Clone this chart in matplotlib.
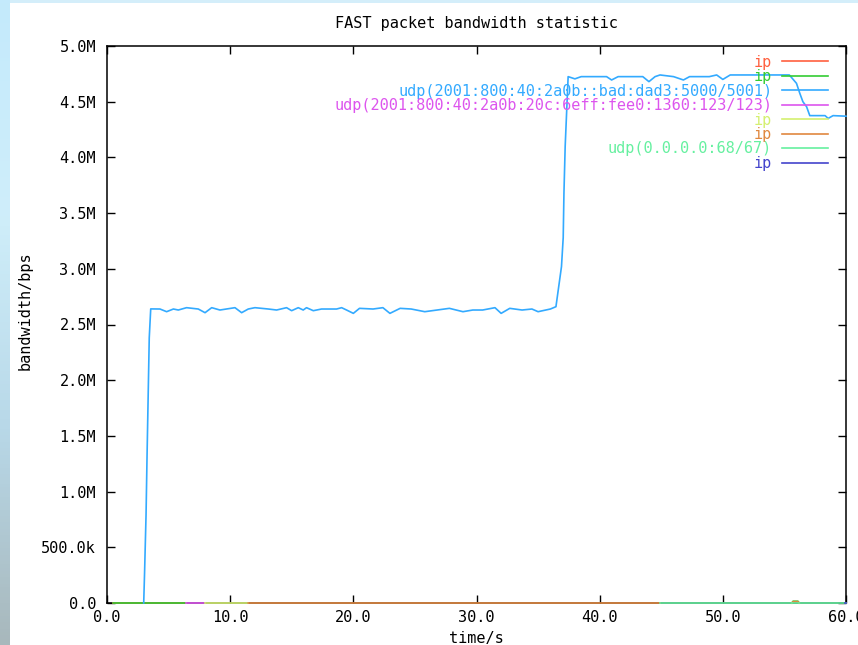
import numpy as np
import matplotlib
matplotlib.use("Agg")
import matplotlib.pyplot as plt
from matplotlib.patches import Rectangle
from matplotlib.colors import LinearSegmentedColormap
from matplotlib.ticker import FuncFormatter, MultipleLocator

# series labels / colours, in plotting order
labels = ["ip", "ip", "udp(2001:800:40:2a0b::bad:dad3:5000/5001)",
          "udp(2001:800:40:2a0b:20c:6eff:fee0:1360:123/123)", "ip", "ip",
          "udp(0.0.0.0:68/67)", "ip"]
colors = ["#ff6040", "#33cc33", "#33aaff", "#dd55ee", "#d4f070", "#e08840",
          "#66f0a0", "#4444cc"]

# time (s) / bandwidth (Mbps) for each series
ip1_t = [0.5, 6.4]
ip1_v = [0.0, 0.0]
ip2_t = [0.5, 6.4, np.nan, 55.6, 55.7, 56.1, 56.2]
ip2_v = [0.0, 0.0, np.nan, 0.0, 0.016, 0.016, 0.0]
udp3_t = [2.98, 3.05, 3.17, 3.25, 3.43, 3.55, 4.30, 4.84, 5.39, 5.79, 6.46,
          7.41, 7.96, 8.50, 9.17, 10.39, 10.93, 11.47, 12.01, 13.1, 13.77,
          14.58, 14.99, 15.53, 15.93, 16.2, 16.75, 17.42, 18.64, 19.05, 19.45,
          20.0, 20.5, 21.6, 22.4, 22.97, 23.8, 24.7, 25.8, 26.8, 27.8, 28.9,
          29.7, 30.5, 31.5, 32.0, 32.7, 33.7, 34.5, 35.0, 36.0, 36.45, 36.9,
          37.04, 37.1, 37.2, 37.44, 37.99, 38.5, 40.56, 40.97, 41.5, 43.5,
          44.0, 44.5, 44.9, 46.0, 46.8, 47.3, 48.9, 49.5, 50.0, 50.6, 55.4,
          55.98, 56.25, 56.5, 56.8, 57.06, 58.3, 58.55, 58.95, 60.0]
udp3_v = [0.0, 0.27, 0.79, 1.31, 2.38, 2.64, 2.639, 2.615, 2.639, 2.630,
          2.651, 2.639, 2.606, 2.651, 2.630, 2.651, 2.606, 2.639, 2.651, 2.639,
          2.630, 2.651, 2.624, 2.651, 2.630, 2.651, 2.624, 2.639, 2.639, 2.651,
          2.630, 2.600, 2.645, 2.639, 2.651, 2.600, 2.645, 2.639, 2.615, 2.630,
          2.645, 2.615, 2.630, 2.630, 2.651, 2.600, 2.645, 2.630, 2.639, 2.615,
          2.639, 2.66, 3.02, 3.28, 3.68, 4.10, 4.725, 4.705, 4.725, 4.725,
          4.695, 4.725, 4.725, 4.68, 4.725, 4.74, 4.725, 4.695, 4.725, 4.725,
          4.74, 4.70, 4.74, 4.74, 4.665, 4.575, 4.50, 4.455, 4.375, 4.375,
          4.35, 4.375, 4.37]
udp4_t = [6.4, 7.95]
udp4_v = [0.0, 0.0]
ip5_t = [7.95, 11.47]
ip5_v = [0.0, 0.0]
ip6_t = [11.47, 44.9, np.nan, 55.6, 55.7, 56.1, 56.2]
ip6_v = [0.0, 0.0, np.nan, 0.0, 0.012, 0.012, 0.0]
udp7_t = [44.9, 60.0]
udp7_v = [0.0, 0.0]
ip8_t = [59.9, 60.0]
ip8_v = [0.0, 0.0]

series_t = [ip1_t, ip2_t, udp3_t, udp4_t, ip5_t, ip6_t, udp7_t, ip8_t]
series_v = [ip1_v, ip2_v, udp3_v, udp4_v, ip5_v, ip6_v, udp7_v, ip8_v]

plt.rcParams['font.family'] = ['DejaVu Sans Mono']
fs = 11

fig = plt.figure(figsize=(8.58, 6.45), dpi=100)
fig.patch.set_facecolor("white")

# background: thin sky strip on top and left (sky -> mountain)
top = fig.add_axes([0, 1 - 3 / 645, 1, 3 / 645], zorder=-5)
top.axis("off")
top.add_patch(Rectangle((0, 0), 1, 1, transform=top.transAxes,
                        facecolor="#d4eefa", edgecolor="none"))
bg = fig.add_axes([0, 0, 10 / 858, 1], zorder=-5)
grad = np.linspace(0, 1, 200)[:, None]
cm = LinearSegmentedColormap.from_list("bg", ["#c4eafc", "#cfeefa", "#b8d8e8", "#a8b8bc"])
bg.imshow(grad, aspect="auto", cmap=cm, extent=[0, 1, 0, 1])
bg.axis("off")

ax = fig.add_axes([107 / 858, 42 / 645, 739 / 858, 557 / 645])
ax.set_facecolor("none")

for t, v, c, lab in zip(series_t, series_v, colors, labels):
    ax.plot(t, np.array(v) * 1e6, color=c, lw=1.2, label=lab, zorder=3, clip_on=False)

ax.set_xlim(0, 60)
ax.set_ylim(0, 5e6)
ax.xaxis.set_major_locator(MultipleLocator(10))
ax.yaxis.set_major_locator(MultipleLocator(5e5))
ax.xaxis.set_major_formatter(FuncFormatter(lambda x, p: "%.1f" % x))


def yfmt(y, p):
    if y == 0:
        return "0.0"
    if y < 1e6:
        return "%.1fk" % (y / 1e3)
    return "%.1fM" % (y / 1e6)


ax.yaxis.set_major_formatter(FuncFormatter(yfmt))
ax.tick_params(direction="in", top=True, right=True, length=5.5, width=1,
               labelsize=fs, colors="black")
ax.tick_params(axis="x", pad=5)
ax.tick_params(axis="y", pad=8)
for s in ax.spines.values():
    s.set_linewidth(1.1)

ax.set_title("FAST packet bandwidth statistic", fontsize=fs, pad=13)
ax.set_xlabel("time/s", fontsize=fs)
ax.set_ylabel("bandwidth/bps", fontsize=fs)
ax.xaxis.set_label_coords(0.5, -0.05)
ax.yaxis.set_label_coords(-0.1, 0.525)

ax.legend(loc="upper right", bbox_to_anchor=(0.9756, 0.9844), frameon=False,
          markerfirst=False, labelcolor="linecolor", fontsize=fs,
          handlelength=3.0, handletextpad=0.65, labelspacing=-0.035,
          borderpad=0, borderaxespad=0)

fig.savefig("out.png", dpi=100, facecolor=fig.get_facecolor())
